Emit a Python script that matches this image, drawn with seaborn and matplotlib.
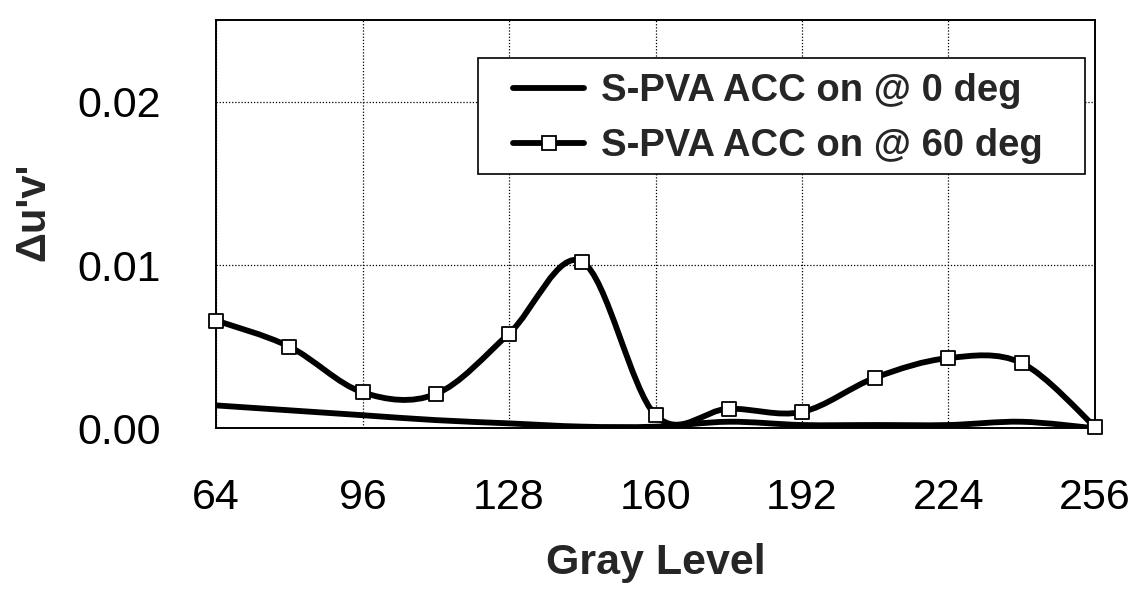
import numpy as np
import pandas as pd
import seaborn as sns
import matplotlib
matplotlib.use("Agg")
import matplotlib.pyplot as plt
from matplotlib.path import Path
from matplotlib.patches import PathPatch, Rectangle
from matplotlib.lines import Line2D

# Gray levels sampled every 16 steps
gray_level = [64, 80, 96, 112, 128, 144, 160, 176, 192, 208, 224, 240, 256]

# Color shift Δu'v' for S-PVA with ACC on
duv_0deg = [0.0014, 0.0011, 0.0008, 0.0005, 0.0003, 0.0001, 0.0001,
            0.0004, 0.0002, 0.0002, 0.0002, 0.0004, 0.0000]
duv_60deg = [0.0066, 0.0050, 0.0022, 0.0021, 0.0058, 0.0102, 0.0008,
             0.0012, 0.0010, 0.0031, 0.0043, 0.0040, 0.0001]

series_labels = ["S-PVA ACC on @ 0 deg", "S-PVA ACC on @ 60 deg"]
x_ticks = [64, 96, 128, 160, 192, 224, 256]
y_ticks = [0.00, 0.01, 0.02]
y_tick_labels = ["0.00", "0.01", "0.02"]

sns.set_theme(style="white")
plt.rcParams["font.family"] = ["Liberation Sans", "DejaVu Sans"]

fig = plt.figure(figsize=(11.44, 5.94), dpi=100)
ax = fig.add_axes([0.189, 0.279, 0.768, 0.687])


def smooth_path(xs, ys):
    """Cubic Bezier path through the points (spreadsheet-style smoothed line)."""
    pts = np.column_stack([xs, ys]).astype(float)
    n = len(pts)
    verts = [pts[0]]
    codes = [Path.MOVETO]
    for i in range(n - 1):
        p_prev = pts[i - 1] if i > 0 else pts[i]
        p0 = pts[i]
        p1 = pts[i + 1]
        p_next = pts[i + 2] if i + 2 < n else pts[i + 1]
        c1 = p0 + (p1 - p_prev) / 6.0
        c2 = p1 - (p_next - p0) / 6.0
        verts.extend([c1, c2, p1])
        codes.extend([Path.CURVE4] * 3)
    return Path(verts, codes)


line_w = 4.2
for vals in (duv_0deg, duv_60deg):
    ax.add_patch(PathPatch(smooth_path(gray_level, vals), fill=False,
                           edgecolor="black", lw=line_w, capstyle="round",
                           joinstyle="round", zorder=3))

df60 = pd.DataFrame({"gray": gray_level, "duv": duv_60deg})
sns.scatterplot(data=df60, x="gray", y="duv", ax=ax, marker="s", s=100,
                facecolor="white", edgecolor="black", linewidth=1.3,
                zorder=4, legend=False, clip_on=False)

ax.set_xlim(64, 256)
ax.set_ylim(0, 0.025)
ax.set_xticks(x_ticks)
ax.set_xticklabels([str(t) for t in x_ticks])
ax.set_yticks(y_ticks)
ax.set_yticklabels(y_tick_labels)
ax.tick_params(axis="both", labelsize=31, colors="black", direction="in",
               length=5, width=1.2)
ax.tick_params(axis="y", pad=40)
ax.tick_params(axis="x", pad=36)

ax.grid(True, color="black", linestyle=(0, (1, 1.5)), linewidth=0.9)
for s in ax.spines.values():
    s.set_color("black")
    s.set_linewidth(1.4)

ax.set_xlabel("Gray Level", fontsize=31, fontweight="bold", labelpad=18)
ax.set_ylabel("Δu'v'", fontsize=30, fontweight="bold")
ax.yaxis.set_label_coords(-0.185, 0.53)

# Legend box with wide side margins
ax.add_patch(Rectangle((0.298, 0.6225), 0.6906, 0.2845, transform=ax.transAxes,
                       facecolor="white", edgecolor="black", linewidth=1.2,
                       zorder=5))

handles = [
    Line2D([], [], color="black", lw=line_w),
    Line2D([], [], color="black", lw=line_w, marker="s", markersize=10,
           markerfacecolor="white", markeredgecolor="black",
           markeredgewidth=1.3),
]
leg = ax.legend(handles, series_labels, loc="upper left",
                bbox_to_anchor=(0.338, 0.87), borderaxespad=0,
                prop={"size": 27.5, "weight": "bold"}, handlelength=1.85,
                frameon=False, borderpad=0, labelspacing=0.5,
                handletextpad=0.45)
leg.set_zorder(6)

fig.savefig("out.png", dpi=100, facecolor="white")
